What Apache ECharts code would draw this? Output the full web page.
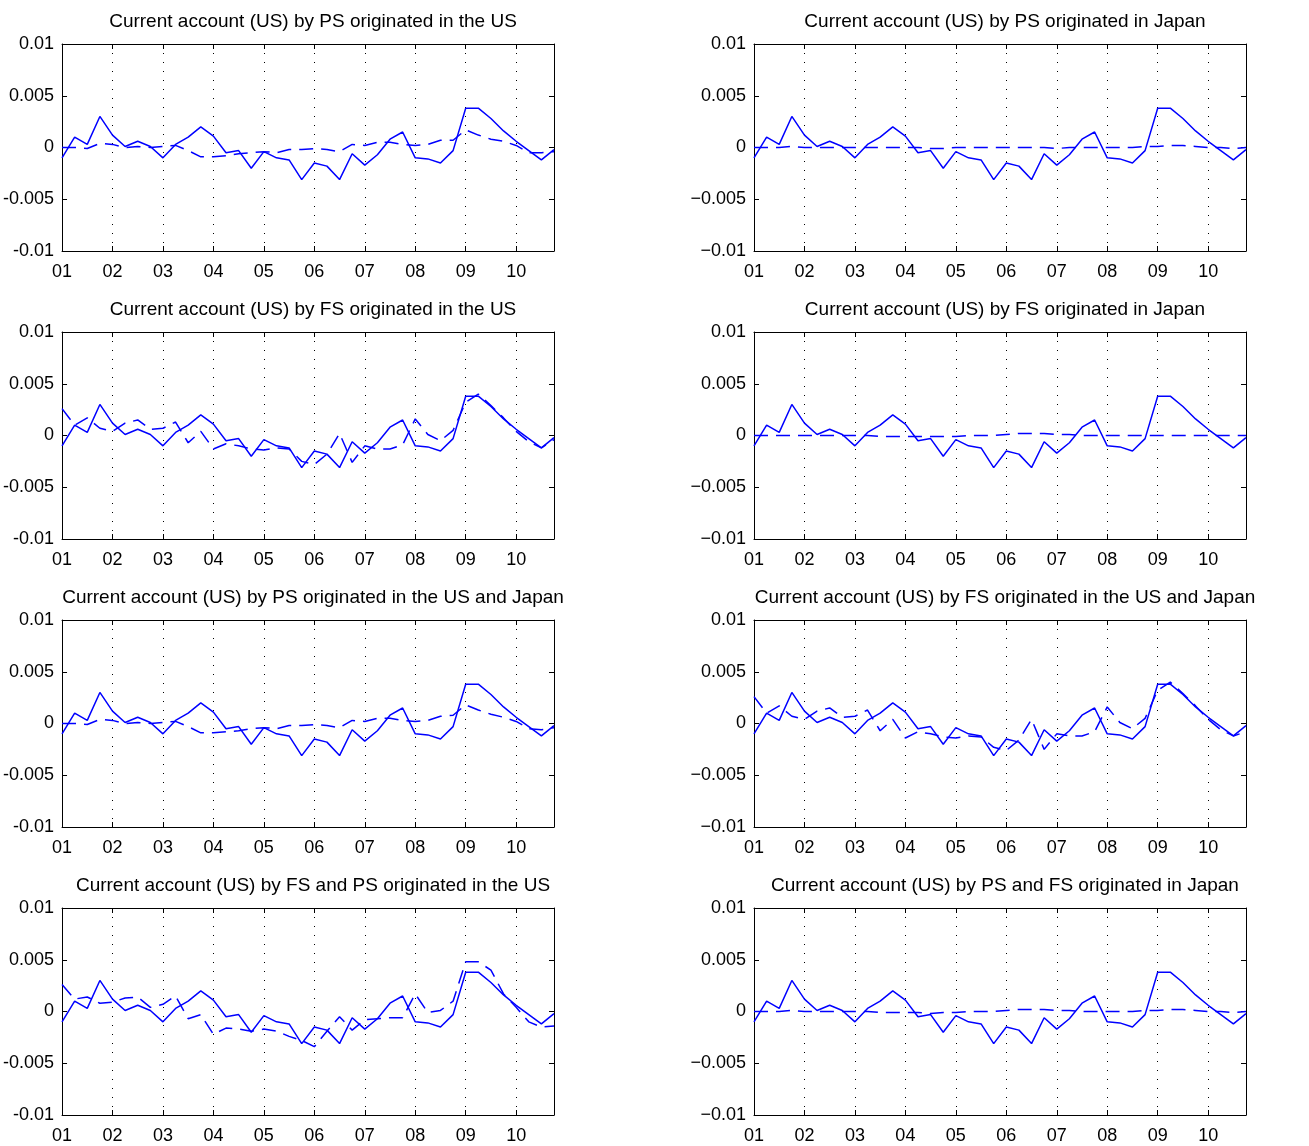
<!DOCTYPE html>
<html>
<head>
<meta charset="utf-8">
<script src="https://cdn.jsdelivr.net/npm/echarts@6/dist/echarts.min.js"></script>
<style>html,body{margin:0;padding:0;background:#fff}#c{width:1309px;height:1146px}</style>
</head>
<body>
<div id="c"></div>
<script>
// quarterly, 2001Q1 .. 2010Q4
var quarters = [];
for (var i = 0; i < 40; i++) quarters.push(2001 + i * 0.25);

var actual = [-0.0010, 0.0010, 0.0003, 0.0030, 0.0012, 0.0001, 0.0006, 0.0001, -0.0010, 0.0003,
  0.0010, 0.0020, 0.0011, -0.0005, -0.0003, -0.0020, -0.0004, -0.0010, -0.0012, -0.0031,
  -0.0015, -0.0018, -0.0031, -0.0006, -0.0017, -0.0007, 0.0008, 0.0015, -0.0010, -0.0011,
  -0.0015, -0.0003, 0.0038, 0.0038, 0.0028, 0.0016, 0.0006, -0.0003, -0.0012, -0.0002];

var psUS = [0, 0, -0.0001, 0.0004, 0.0003, 0, 0.0001, 0, 0.0001, 0.0002,
  -0.0003, -0.0009, -0.0009, -0.0008, -0.0006, -0.0005, -0.0004, -0.0005, -0.0002, -0.0002,
  -0.0001, -0.0002, -0.0004, 0.0003, 0.0002, 0.0005, 0.0005, 0.0003, 0.0002, 0.0003,
  0.0007, 0.0007, 0.0017, 0.0012, 0.0008, 0.0006, 0.0002, -0.0005, -0.0005, -0.0004];

var psJP = [0, 0, 0, 0.0001, 0, 0, 0, 0, 0, 0,
  0, 0, 0, 0, -0.0001, -0.0001, 0, 0, 0, 0,
  0, 0, 0, 0, -0.0001, 0, 0, 0, 0, 0,
  0, 0.0001, 0.0001, 0.0002, 0.0002, 0.0001, 0, 0, -0.0001, 0];

var fsUS = [0.0026, 0.0010, 0.0017, 0.0007, 0.0004, 0.0012, 0.0015, 0.0006, 0.0007, 0.0013,
  -0.0007, 0.0004, -0.0013, -0.0008, -0.0010, -0.0013, -0.0014, -0.0012, -0.0013, -0.0025,
  -0.0028, -0.0018, 0.0002, -0.0026, -0.0010, -0.0013, -0.0013, -0.0009, 0.0016, 0.0001,
  -0.0005, 0.0005, 0.0032, 0.0040, 0.0029, 0.0017, 0.0004, -0.0006, -0.0012, -0.0004];

var fsJP = [0, 0, 0, 0, 0, 0, 0, 0, 0, 0,
  -0.0001, -0.0001, -0.0001, -0.0001, -0.0001, -0.0001, -0.0001, 0, 0, 0,
  0.0001, 0.0002, 0.0002, 0.0002, 0.0001, 0.0001, 0, 0, 0, 0,
  0, 0, 0, 0, 0, 0, 0, 0, 0, 0];

var psUSJP = [0, 0, -0.0001, 0.0004, 0.0003, 0, 0.0001, 0, 0.0001, 0.0002,
  -0.0003, -0.0009, -0.0009, -0.0008, -0.0007, -0.0005, -0.0004, -0.0005, -0.0002, -0.0002,
  -0.0001, -0.0002, -0.0004, 0.0003, 0.0002, 0.0005, 0.0005, 0.0003, 0.0002, 0.0003,
  0.0007, 0.0008, 0.0018, 0.0013, 0.0009, 0.0006, 0.0002, -0.0005, -0.0006, -0.0004];

var fsUSJP = [0.0026, 0.0010, 0.0017, 0.0007, 0.0004, 0.0012, 0.0015, 0.0006, 0.0007, 0.0013,
  -0.0007, 0.0004, -0.0014, -0.0008, -0.0010, -0.0013, -0.0014, -0.0012, -0.0013, -0.0023,
  -0.0026, -0.0016, 0.0004, -0.0025, -0.0010, -0.0012, -0.0012, -0.0008, 0.0016, 0.0001,
  -0.0005, 0.0005, 0.0032, 0.0040, 0.0029, 0.0017, 0.0004, -0.0006, -0.0012, -0.0008];

var fspsUS = [0.0026, 0.0012, 0.0014, 0.0008, 0.0009, 0.0013, 0.0014, 0.0004, 0.0007, 0.0015,
  -0.0007, -0.0003, -0.0022, -0.0016, -0.0017, -0.0019, -0.0017, -0.0019, -0.0024, -0.0028,
  -0.0034, -0.0019, -0.0005, -0.0018, -0.0008, -0.0007, -0.0006, -0.0006, 0.0017, -0.0001,
  0.0001, 0.0010, 0.0048, 0.0048, 0.0040, 0.0017, 0.0004, -0.0010, -0.0015, -0.0014];

var fspsJP = [0, 0, 0, 0.0001, 0, 0, 0, 0, 0, 0,
  -0.0001, -0.0001, -0.0001, -0.0001, -0.0002, -0.0001, -0.0001, 0, 0, 0,
  0.0001, 0.0002, 0.0002, 0.0002, 0.0001, 0.0001, 0, 0, 0, 0,
  0, 0.0001, 0.0001, 0.0002, 0.0002, 0.0001, 0, 0, -0.0001, 0];

var panels = [
  ['Current account (US) by PS originated in the US', psUS],
  ['Current account (US) by PS originated in Japan', psJP],
  ['Current account (US) by FS originated in the US', fsUS],
  ['Current account (US) by FS originated in Japan', fsJP],
  ['Current account (US) by PS originated in the US and Japan', psUSJP],
  ['Current account (US) by FS originated in the US and Japan', fsUSJP],
  ['Current account (US) by FS and PS originated in the US', fspsUS],
  ['Current account (US) by PS and FS originated in Japan', fspsJP]
];

var lefts = [62, 754], tops = [44, 332, 620, 908], W = 492, H = 207;
var font = 'Liberation Sans, Arial, sans-serif';
var grids = [], xAxes = [], yAxes = [], series = [], titles = [];

function pairs(ys) { return quarters.map(function (q, i) { return [q, ys[i]]; }); }

panels.forEach(function (p, k) {
  var col = k % 2, row = Math.floor(k / 2);
  var L = lefts[col], T = tops[row];
  grids.push({ left: L, top: T, width: W, height: H, show: false });
  titles.push({ text: p[0], left: L + W / 2, top: T - 37, textAlign: 'center',
    textStyle: { fontFamily: font, fontSize: 19, fontWeight: 'normal', color: '#000' } });
  var minus = col === 0 ? '-' : '\u2212';
  xAxes.push({ type: 'value', gridIndex: k, min: 2001, max: 2010.75, interval: 1,
    axisLine: { onZero: false, lineStyle: { color: '#000', width: 1 } },
    axisTick: { inside: true, length: 5, lineStyle: { color: '#000' } },
    axisLabel: { color: '#000', fontFamily: font, fontSize: 18, margin: 12, showMaxLabel: false,
      formatter: function (v) { return String(Math.round(v) % 100).padStart(2, '0'); } },
    splitLine: { show: true, lineStyle: { color: '#000', type: [1, 8], width: 1 } } });
  xAxes.push({ type: 'value', gridIndex: k, position: 'top', min: 2001, max: 2010.75, interval: 1,
    axisLine: { onZero: false, lineStyle: { color: '#000' } },
    axisTick: { inside: true, length: 5, lineStyle: { color: '#000' } },
    axisLabel: { show: false }, splitLine: { show: false } });
  var yfmt = function (v) {
    if (Math.abs(v) < 1e-9) return '0';
    var s = String(Math.abs(v).toFixed(3)).replace(/0+$/, '');
    return (v < 0 ? minus : '') + s;
  };
  yAxes.push({ type: 'value', gridIndex: k, min: -0.01, max: 0.01, interval: 0.005,
    axisLine: { show: true, onZero: false, lineStyle: { color: '#000' } },
    axisTick: { inside: true, length: 5, lineStyle: { color: '#000' } },
    axisLabel: { color: '#000', fontFamily: font, fontSize: 18, margin: 8, formatter: yfmt },
    splitLine: { show: false } });
  yAxes.push({ type: 'value', gridIndex: k, position: 'right', min: -0.01, max: 0.01, interval: 0.005,
    axisLine: { show: true, onZero: false, lineStyle: { color: '#000' } },
    axisTick: { inside: true, length: 5, lineStyle: { color: '#000' } },
    axisLabel: { show: false }, splitLine: { show: false } });
  series.push({ type: 'line', xAxisIndex: 2 * k, yAxisIndex: 2 * k, data: pairs(actual),
    symbol: 'none', lineStyle: { color: '#0000ff', width: 1.5 }, silent: true, animation: false });
  series.push({ type: 'line', xAxisIndex: 2 * k, yAxisIndex: 2 * k, data: pairs(p[1]),
    symbol: 'none', lineStyle: { color: '#0000ff', width: 1.5, type: [14, 8] }, silent: true, animation: false });
});

var chart = echarts.init(document.getElementById('c'));
chart.setOption({ animation: false, title: titles, grid: grids, xAxis: xAxes, yAxis: yAxes, series: series });
</script>
</body>
</html>
